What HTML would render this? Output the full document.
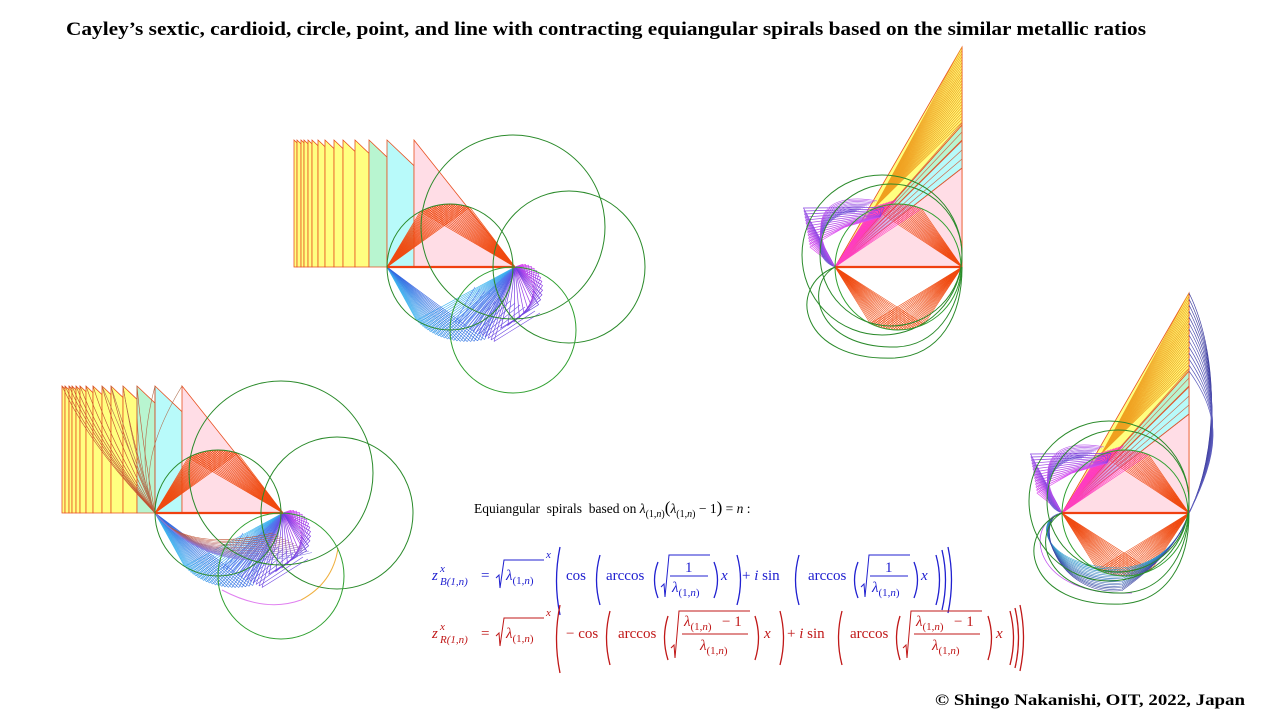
<!DOCTYPE html>
<html><head><meta charset="utf-8"><style>
html,body{margin:0;padding:0;background:#fff;}
svg{display:block;}
</style></head><body>
<svg id="s" width="1280" height="720" viewBox="0 0 1280 720" xmlns="http://www.w3.org/2000/svg" font-family="Liberation Serif, serif">
<rect width="1280" height="720" fill="#fff"/>
<text x="66" y="35" font-size="19" font-weight="bold" textLength="1080" lengthAdjust="spacingAndGlyphs">Cayley’s sextic, cardioid, circle, point, and line with contracting equiangular spirals based on the similar metallic ratios</text>
<text x="935" y="705" font-size="16" font-weight="bold" textLength="310" lengthAdjust="spacingAndGlyphs">© Shingo Nakanishi, OIT, 2022, Japan</text>
<g id="g"></g>
<g font-style="normal" font-size="14">
<text x="474" y="513" font-size="13.5">Equiangular&#160; spirals&#160; based on <tspan font-style="italic">λ</tspan><tspan font-size="10" dy="4">(1,<tspan font-style="italic">n</tspan>)</tspan><tspan dy="-4" font-size="17">(</tspan><tspan font-style="italic">λ</tspan><tspan font-size="10" dy="4">(1,<tspan font-style="italic">n</tspan>)</tspan><tspan dy="-4"> − 1</tspan><tspan font-size="17">)</tspan> = <tspan font-style="italic">n</tspan> :</text>
</g>
<g id="fb" fill="#2020d0" font-size="15"></g>
<g id="fr" fill="#c01818" font-size="15"></g>
</svg>
<script>
var NS="http://www.w3.org/2000/svg",G=document.getElementById('g');
function el(t,a,p){var e=document.createElementNS(NS,t);for(var k in a)e.setAttribute(k,a[k]);(p||G).appendChild(e);return e;}
function ln(x1,y1,x2,y2,c,w){el('line',{x1:x1,y1:y1,x2:x2,y2:y2,stroke:c,'stroke-width':w||0.7});}
function poly(pts,f,s){el('polygon',{points:pts.map(p=>p.join(',')).join(' '),fill:f,stroke:s||'#e85020','stroke-width':0.8});}
function circ(x,y,r,c){el('circle',{cx:x,cy:y,r:r,fill:'none',stroke:c||'#2a8a2a','stroke-width':1});}
function path(d,c,w){el('path',{d:d,fill:'none',stroke:c,'stroke-width':w||0.7});}
function lerp(a,b,t){return a+(b-a)*t;}
function hexmix(c1,c2,t){var a=parseInt(c1.slice(1),16),b=parseInt(c2.slice(1),16);var r=Math.round(lerp(a>>16,b>>16,t)),g=Math.round(lerp((a>>8)&255,(b>>8)&255,t)),bl=Math.round(lerp(a&255,b&255,t));return 'rgb('+r+','+g+','+bl+')';}

function leftDiag(Ax,Ay,extra){
  var Bx=Ax+128,top=Ay-127;
  var offs=[-93,-90,-86,-83,-79,-75,-69,-62,-53,-44,-32,-18,0,27];
  for(var i=0;i<offs.length-1;i++){
    var x1=Ax+offs[i],x2=Ax+offs[i+1];
    var col=i<11?'#ffff80':(i==11?'#b8f5d0':'#b8fafa');
    poly([[x1,top],[x1,Ay],[x2,Ay],[x2,top+(x2-x1)*0.95]],col);
  }
  poly([[Ax+27,top],[Ax+27,Ay],[Bx,Ay]],'#ffdde6');
  if(extra){
    for(var i=0;i<13;i++){var x=Ax+offs[i];path('M'+x+','+top+' Q'+(x+(Ax-x)*0.3)+','+(top+60)+' '+Ax+','+Ay,'#c05030',0.6);}
    for(var i=0;i<6;i++){path('M'+(Ax+offs[Math.min(13,8+i)])+','+top+' Q'+(Ax-20)+','+(Ay-50)+' '+Ax+','+Ay,'#b07050',0.6);}
  }
  var cx=Ax+63,r=63;
  for(var k=0;k<22;k++){var a=(118-k*2.2)*Math.PI/180;var px=cx+r*Math.cos(a),py=Ay-r*Math.sin(a);
    ln(Ax,Ay,px,py,'#f04a10',0.7);ln(px,py,Bx,Ay,'#f04a10',0.7);}
  for(var k=0;k<24;k++){var a=(238+k*2.5)*Math.PI/180;var rr=r*(1+k*0.012);var px=cx+rr*Math.cos(a),py=Ay-rr*Math.sin(a);
    var c=hexmix('#40b8f0','#3060e0',k/24);ln(Ax,Ay,px,py,c,0.6);ln(px,py,Bx,Ay,c,0.6);}
  for(var k=0;k<14;k++){var px=Bx-60+k*3,py=Ay+55+k*1.5;var c=hexmix('#5080f0','#7040e0',k/14);ln(Bx,Ay,px,py,c,0.6);ln(px,py,Bx-40+k*5,Ay+20+k*2,c,0.6);}
  for(var k=0;k<14;k++){var s=8+k*2.8,a=(-20+k*6)*Math.PI/180;var c=hexmix('#e040f0','#6040e0',k/14);
    var p1=[Bx+s*Math.cos(a),Ay+s*Math.sin(a)],p2=[p1[0]-s*Math.sin(a),p1[1]+s*Math.cos(a)];
    el('polyline',{points:Bx+','+Ay+' '+p1.join(',')+' '+p2.join(',')+' '+Bx+','+Ay,fill:'none',stroke:c,'stroke-width':0.7});}
  if(extra){
    path('M'+(Ax+67)+','+(Ay+77)+' Q'+(Ax+110)+','+(Ay+100)+' '+(Bx+18)+','+(Ay+87),'#e080f0',1);
    path('M'+(Bx+18)+','+(Ay+87)+' Q'+(Bx+50)+','+(Ay+70)+' '+(Bx+55)+','+(Ay+35),'#f0b040',1);
    for(var k=0;k<14;k++){path('M'+Ax+','+Ay+' Q'+(Ax+30+k*2)+','+(Ay+40+k*2)+' '+(Bx-10+k*3)+','+(Ay+20+k*1.5),hexmix('#c05030','#8080f0',k/14),0.6);}
  }
  ln(Ax,Ay,Bx,Ay,'#f04010',2.2);
  circ(cx,Ay,63);circ(Ax+126,Ay-40,92);circ(Ax+182,Ay,76);circ(Ax+126,Ay+63,63,'#30a030');
}

function rightDiag(Ax,Ay,topY,blue){
  var Bx=Ax+127;
  ln(Bx,topY,Bx,Ay,'#e85020',1);
  var bands=[[Ay-99,Ay-127,'#b8fafa'],[Ay-127,Ay-142,'#b8f5d0'],[Ay-142,topY,'#ffff80']];
  poly([[Ax,Ay],[Bx,Ay],[Bx,Ay-99]],'#ffdde6');
  bands.forEach(b=>poly([[Ax,Ay],[Bx,b[0]],[Bx,b[1]]],b[2]));
  var n=26;for(var k=0;k<n;k++){var y=lerp(topY,Ay-142,k/n);ln(Ax+40,Ay-60,Bx,y,'#f0a020',0.7);}
  for(var k=0;k<16;k++){var t=k/16;ln(Ax,Ay,Ax+38+t*25,Ay-60-t*8,'#ff30c0',0.7);}
  for(var k=0;k<6;k++){ln(Ax,Ay,Bx,Ay-99-k*9,'#d06040',0.6);}
  var cx=Ax+63,r=63;
  for(var k=0;k<20;k++){var a=(112-k*2.3)*Math.PI/180;var px=cx+r*Math.cos(a),py=Ay-r*Math.sin(a);ln(px,py,Bx,Ay,'#f04a10',0.6);ln(Ax,Ay,px,py,'#ff40c0',0.6);}
  for(var k=0;k<22;k++){var a=(244+k*2.4)*Math.PI/180;var px=cx+r*Math.cos(a),py=Ay-r*Math.sin(a);ln(Ax,Ay,px,py,'#f04a10',0.6);ln(px,py,Bx,Ay,'#f04a10',0.6);}
  for(var k=0;k<14;k++){var c=hexmix('#e050f0','#8040e0',k/14);var s=20+k*3;
    el('polyline',{points:Ax+','+Ay+' '+(Ax-25-k*0.5)+','+(Ay-s)+' '+(Ax+10+k*3)+','+(Ay-40-k*1.5)+' '+(Ax+45)+','+(Ay-50),fill:'none',stroke:c,'stroke-width':0.7});}
  for(var k=0;k<12;k++){path('M'+Ax+','+Ay+' C'+(Ax-28)+','+(Ay-10-k*3)+' '+(Ax-15)+','+(Ay-55-k*2)+' '+(Ax+20+k*2)+','+(Ay-55-k),hexmix('#6050d0','#c050f0',k/12),0.6);}
  if(blue){
    for(var k=0;k<14;k++){path('M'+Bx+','+(topY+k*6)+' C'+(Bx+30+k*0.3)+','+(topY+60+k*5)+' '+(Bx+30)+','+(Ay-60)+' '+Bx+','+Ay,hexmix('#4040a0','#6060c0',k/14),0.7);}
    for(var k=0;k<16;k++){path('M'+Ax+','+Ay+' C'+(Ax-30)+','+(Ay+5)+' '+(Ax-20+k)+','+(Ay+55+k*2)+' '+(Ax+60)+','+(Ay+55+k*1.5)+' C'+(Ax+95)+','+(Ay+52)+' '+(Bx-10)+','+(Ay+30)+' '+Bx+','+Ay,hexmix('#30a0d0','#4040a0',k/16),0.6);}
    path('M'+Ax+','+Ay+' C'+(Ax-40)+','+(Ay+10)+' '+(Ax-30)+','+(Ay+85)+' '+(Ax+70)+','+(Ay+80),'#c050f0',0.8);
  }
  ln(Ax,Ay,Bx,Ay,'#f04010',2.2);
  circ(cx,Ay,63,'#30a030');circ(Ax+47,Ay-12,80);circ(Ax+56,Ay-12,71);
  path('M'+Ax+','+Ay+' C'+(Ax-50)+','+(Ay+20)+' '+(Ax-35)+','+(Ay+95)+' '+(Ax+60)+','+(Ay+91)+' C'+(Ax+105)+','+(Ay+88)+' '+(Bx)+','+(Ay+50)+' '+Bx+','+Ay,'#2a8a2a',1);
  path('M'+Ax+','+Ay+' C'+(Ax-32)+','+(Ay+18)+' '+(Ax-20)+','+(Ay+82)+' '+(Ax+62)+','+(Ay+80)+' C'+(Ax+100)+','+(Ay+78)+' '+(Bx-3)+','+(Ay+45)+' '+Bx+','+Ay,'#2a8a2a',1);
}
leftDiag(387,267,false);
leftDiag(155,513,true);
rightDiag(835,267,47,false);
rightDiag(1062,513,293,true);

function tx(g,x,y,s,o){o=o||{};var e=el('text',Object.assign({x:x,y:y},o),g);e.innerHTML=s;return e;}
function par(g,x,y1,y2,open,c){var m=(y1+y2)/2,b=open?-7:7;path('M'+x+','+y1+' Q'+(x+b)+','+m+' '+x+','+y2,c,1.3);var e=G.lastChild;g.appendChild(e);}
function sq(g,x1,x2,ytop,ybot,c){el('polyline',{points:(x1-4)+','+(ybot-10)+' '+(x1-1)+','+(ybot-13)+' '+x1+','+ybot+' '+(x1+4)+','+ytop+' '+x2+','+ytop,fill:'none',stroke:c,'stroke-width':1},g);}
function lam(g,x,y,fs){return tx(g,x,y,'<tspan font-style="italic">λ</tspan><tspan font-size="'+(fs||11)+'" dy="4">(1,<tspan font-style="italic">n</tspan>)</tspan>');}
function line(g,c,y,red){
  tx(g,432,y,'<tspan font-style="italic">z</tspan>');
  tx(g,440,y-8,'x',{'font-size':11,'font-style':'italic'});
  tx(g,440,y+5,(red?'R':'B')+'(1,<tspan font-style="italic">n</tspan>)',{'font-size':11,'font-style':'italic'});
  tx(g,481,y,'=');
  sq(g,500,544,y-20,y+8,c);lam(g,506,y);tx(g,546,y-22,'x',{'font-size':11,'font-style':'italic'});
  par(g,560,y-33,y+35,true,c);
}
var fb=document.getElementById('fb'),fr=document.getElementById('fr');
var yb=580;line(fb,'#2020d0',yb,false);
tx(fb,566,yb,'cos');par(fb,600,yb-25,yb+25,true,'#2020d0');tx(fb,606,yb,'arccos');par(fb,658,yb-18,yb+18,true,'#2020d0');
sq(fb,665,710,yb-25,yb+17,'#2020d0');tx(fb,685,yb-8,'1');ln(670,yb-4,708,yb-4,'#2020d0',0.9);fb.appendChild(G.lastChild);lam(fb,672,yb+12);
par(fb,714,yb-18,yb+18,false,'#2020d0');tx(fb,721,yb,'x',{'font-style':'italic'});par(fb,737,yb-25,yb+25,false,'#2020d0');
tx(fb,742,yb,'+ <tspan font-style="italic">i</tspan> sin');par(fb,799,yb-25,yb+25,true,'#2020d0');tx(fb,808,yb,'arccos');par(fb,858,yb-18,yb+18,true,'#2020d0');
sq(fb,865,910,yb-25,yb+17,'#2020d0');tx(fb,885,yb-8,'1');ln(870,yb-4,908,yb-4,'#2020d0',0.9);fb.appendChild(G.lastChild);lam(fb,872,yb+12);
par(fb,914,yb-18,yb+18,false,'#2020d0');tx(fb,921,yb,'x',{'font-style':'italic'});par(fb,936,yb-25,yb+25,false,'#2020d0');par(fb,942,yb-30,yb+30,false,'#2020d0');par(fb,948,yb-33,yb+33,false,'#2020d0');

var yr=638;line(fr,'#c01818',yr,true);
tx(fr,566,yr,'− cos');par(fr,610,yr-27,yr+27,true,'#c01818');tx(fr,618,yr,'arccos');par(fr,668,yr-22,yr+22,true,'#c01818');
sq(fr,675,750,yr-27,yr+20,'#c01818');lam(fr,684,yr-12);tx(fr,722,yr-12,'− 1');ln(682,yr-4,748,yr-4,'#c01818',0.9);fr.appendChild(G.lastChild);lam(fr,700,yr+12);
par(fr,755,yr-22,yr+22,false,'#c01818');tx(fr,764,yr,'x',{'font-style':'italic'});par(fr,780,yr-27,yr+27,false,'#c01818');
tx(fr,787,yr,'+ <tspan font-style="italic">i</tspan> sin');par(fr,842,yr-27,yr+27,true,'#c01818');tx(fr,850,yr,'arccos');par(fr,900,yr-22,yr+22,true,'#c01818');
sq(fr,907,982,yr-27,yr+20,'#c01818');lam(fr,916,yr-12);tx(fr,954,yr-12,'− 1');ln(914,yr-4,980,yr-4,'#c01818',0.9);fr.appendChild(G.lastChild);lam(fr,932,yr+12);
par(fr,988,yr-22,yr+22,false,'#c01818');tx(fr,996,yr,'x',{'font-style':'italic'});par(fr,1010,yr-27,yr+27,false,'#c01818');par(fr,1015,yr-30,yr+30,false,'#c01818');par(fr,1020,yr-33,yr+33,false,'#c01818');
</script>
</body></html>
